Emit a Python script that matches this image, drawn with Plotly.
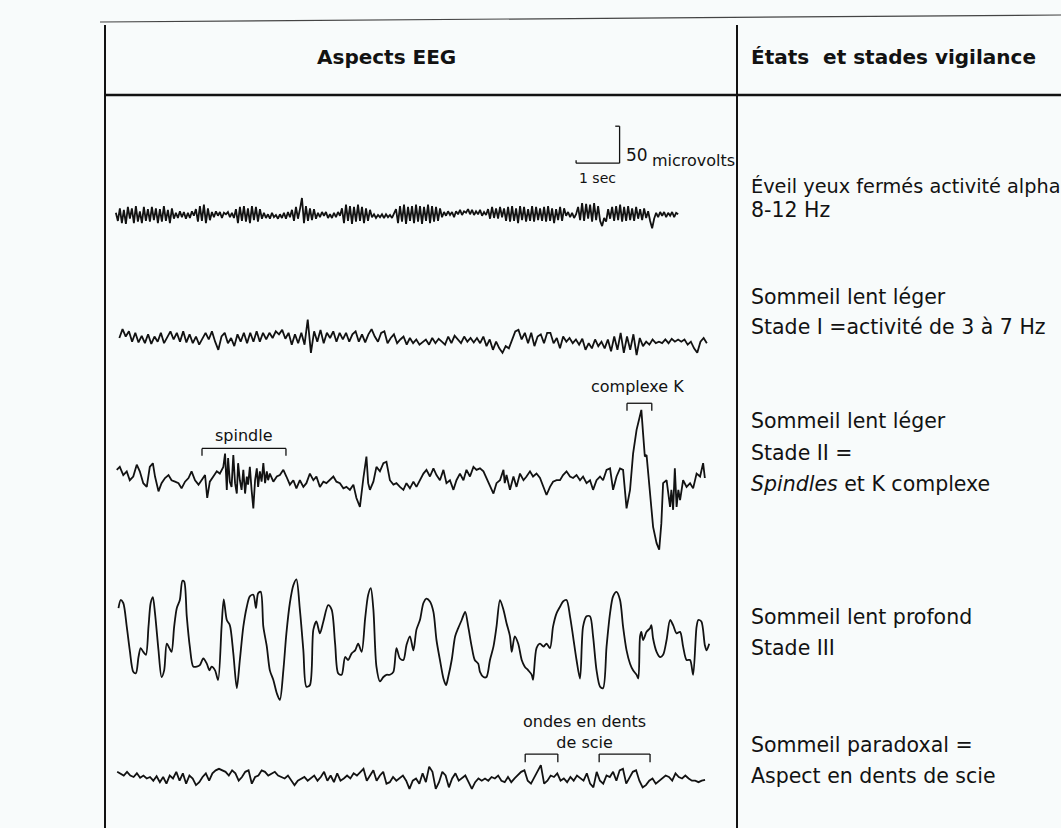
import plotly.graph_objects as go

W, H = 1061, 828
PX_PER_SEC = 43.5          # horizontal scale of the recording (1 s)
PX_PER_UV = 37 / 50        # vertical scale of the recording (50 microvolts)
TRACE_X0 = 115             # pixel where t = 0

# ---------------------------------------------------------------- data
# Eveil, yeux fermes (alpha) - uniform sampling
eveil_t0 = 0.02
eveil_dt = 0.046
eveil_uv = [3, -8, 9, -11, 7, -12, 11, -5, 9, -11, 12, -9, 5, -11, 11, -8, 8,
            -9, 11, -7, 9, -11, 8, -9, 12, -8, 7, -11, 9, -5,
            3, -4, 5, -3, 4, -5, 3, -4, 5, -1,
            8, -9, 12, -8, 14, -11, 9, -7,
            4, -3, 5, -1, 4, -4, 3, 1, 4, -3, 3, -4,
            8, -11, 11, -8, 12, -9, 9, -11, 12, -7, 11, -9, 8, -5,
            3, -4, 1, -5, 3, -3, 0, -5, 1, -4, 3, -5, 4, -3,
            7, -8, 11, -5, 8, 23, -11, 12, -8, 9, -7, 8, -5,
            3, -3, 4, -1, 4, -4, 1, -4, 3, -3, 4, -1,
            9, -11, 14, -8, 12, -12, 11, -9, 14, -8, 11, -11, 9, -8, 7,
            -3, 1, -4, 0, -3, 1, -4, 1, -3, 0, -4, 3,
            8, -11, 12, -9, 14, -12, 11, -8, 12, -11, 14, -9, 12, -12, 11, -8, 14, -11, 12, -9, 11, -8, 9,
            -3, 4, -1, 5, 0, 4, -3, 5, 1, 7, 0, 5, 3, 8, 1, 7, 0, 5, 1, 7, -1, 4, 0,
            8, -5, 11, -4, 9, -5, 11, -3, 9,
            -8, 11, -9, 12, -8, 9, -11, 12, -7, 11, -9, 8, -8, 12, -9, 11, -7, 9, -8, 11, -9, 12, -8, 9, -11, 8, -7, 11, -8, 9,
            -1, 4, -3, 3, -4, 1,
            11, -7, 16, -8, 15, -5, 14, -9, 16, -7, 12, -8,
            -15, -4, -9,
            8, -5, 11, -8, 12, -7, 14, -9, 11, -8, 12, -7, 9, -8, 11, -5, 8, -7, 9, -4, 5,
            -8, -18, -5,
            3, -3, 4, -1, 4, -3, 3, -1, 4, -3, 3, 1]

# Stade I - uniform sampling
stade1_t0 = 0.10
stade1_dt = 0.0734
stade1_uv = [0, 12, 2, 9, -5, 7, -6, 3, -7, 5,
             -8, 2, -5, 7, -7, 2, 9, -2, 7, -5,
             9, -6, 5, -7, 2, -9, 0, 7, -2, 9,
             -5, -16, 2, 7, -7, 0, -11, 5, -5, 7,
             -7, 7, -5, 9, -5, 7, -2, 7, 0, 9,
             5, 11, -1, 7, -9, 5, -7, 7, -9, 25,
             -20, 9, -5, 11, -7, 7, 0, 9, -5, 7,
             -2, 7, -5, 5, 9, -5, 5, -6, 5, 12,
             2, -5, 7, 9, -7, 0, 5, -7, -2, 2,
             -9, 0, -7, -2, -9, -5,
             -2, -9, 0, -7, -1, -5, -9, 2, -7, 3,
             -2, -7, 2, -5, 0, -6, 0, -7, 2, -11,
             -2, -16, -5, -14, -20, -11, -14, -2, 9, 11,
             -2, 7, -7, 7, -11, 2, 5, -7, 7, 7,
             -7, 0, -14, 2, -5, 0, -7, -2, -9, -1,
             -16, -7, -14, -2, -11, -5, -14, -2, -18, 2,
             -16, 7, -20, 2, -16, 5, -23, 0, -11, -5,
             -9, -2, -7, -5, -7, -2, -7, -1, -5, -2,
             -5, -2, -9, -5, -14, -20, -5, 0, -7]

# Stade II (spindles + complexe K) - time (s), amplitude (uV)
stade2_t = [0.04, 0.11, 0.19, 0.27, 0.34, 0.42, 0.50, 0.57, 0.65, 0.73,
            0.80, 0.87, 0.92, 1.00, 1.07, 1.15, 1.23, 1.30, 1.38, 1.46,
            1.53, 1.61, 1.69, 1.76, 1.84, 1.92, 1.99, 2.07, 2.12, 2.18,
            2.26, 2.34, 2.41, 2.49, 2.53, 2.57, 2.60, 2.64, 2.68, 2.72,
            2.76, 2.80, 2.83, 2.87, 2.91, 2.95, 2.99, 3.03, 3.06, 3.10,
            3.14, 3.18, 3.22, 3.26, 3.29, 3.33, 3.37, 3.41, 3.45, 3.49,
            3.52, 3.56, 3.64, 3.72, 3.79, 3.87, 3.94, 4.02, 4.10, 4.17,
            4.25, 4.33, 4.40, 4.48, 4.56, 4.63, 4.71, 4.79, 4.86, 4.94,
            5.02, 5.09, 5.17, 5.25, 5.32, 5.40, 5.48, 5.55, 5.63, 5.71,
            5.78, 5.82, 5.86, 5.94, 6.01, 6.09, 6.17, 6.24, 6.32, 6.40,
            6.47, 6.55, 6.63, 6.70, 6.78, 6.86, 6.93,
            7.09, 7.16, 7.24, 7.32, 7.39, 7.47, 7.55, 7.62, 7.70, 7.78,
            7.85, 7.93, 8.01, 8.08, 8.16, 8.24, 8.31, 8.39, 8.47, 8.54,
            8.62, 8.70, 8.77, 8.85, 8.93, 8.96, 9.00, 9.08, 9.16, 9.23,
            9.31, 9.39, 9.46, 9.54, 9.61, 9.69, 9.77, 9.84, 9.92, 10.00,
            10.07, 10.15, 10.23, 10.30, 10.38, 10.46, 10.53, 10.61, 10.69, 10.76,
            10.84, 10.92, 10.99, 11.07, 11.15, 11.22, 11.30, 11.38, 11.45, 11.53,
            11.61, 11.68, 11.72, 11.76, 11.84, 11.91, 11.99, 12.07, 12.10, 12.14,
            12.18, 12.22, 12.26, 12.30, 12.37, 12.45, 12.51, 12.56, 12.60, 12.68,
            12.72, 12.76, 12.79, 12.83, 12.87, 12.91, 12.95, 12.99, 13.06, 13.14,
            13.22, 13.29, 13.37, 13.45, 13.52, 13.56]
stade2_uv = [11, 15, 4, 9, -3, 2, 18, 9, -7, -12,
             15, 20, 2, -18, -7, 0, 4, -3, -5, -7,
             -14, -5, 0, 9, -3, -9, -3, 4, -27, -5,
             2, 9, 6, 15, 33, -16, 27, -5, -12, 31,
             -7, -21, 20, -3, -16, 11, -21, 2, -9, 15,
             -16, -41, -3, 13, -12, 9, -5, 20, -7, 9,
             -3, 6, -5, 2, 4, 11, 2, -9, -3, -14,
             -3, -12, -7, 6, -3, 2, -12, -5, -7, -3,
             2, -5, -7, -14, -12, -16, -9, -27, -39, 0,
             29, -7, -16, -5, 15, 9, 20, 22, -3, -9,
             -7, -12, -16, -7, -14, -5, -12,
             6, 11, 2, 13, 4, -3, 11, -7, -3, -16,
             -3, 6, -3, 11, 2, 15, 11, 13, 9, 0,
             -12, -21, -7, -3, 11, -7, 4, -16, 2, -12,
             6, -3, 2, 9, 2, 6, 0, -12, -23, -12,
             -5, -3, -3, 4, 9, 2, 0, 4, -3, 2,
             -7, -3, -16, -3, 2, -3, 11, 13, -16, 2,
             13, 11, -16, -41, -16, 33, 65, 87, 92, 60,
             29, 31, 6, -25, -66, -88, -97, -61, -7, -3,
             -25, -39, -16, -43, 13, -39, -16, -30, -3, -12,
             -7, -14, 6, 2, 20, 0]

# Stade III (ondes lentes) - time (s), amplitude (uV)
stade3_t = [0.08, 0.13, 0.19, 0.27, 0.34, 0.42, 0.48, 0.54, 0.59, 0.65,
            0.71, 0.77, 0.82, 0.87, 0.92, 1.00, 1.07, 1.13, 1.19, 1.25,
            1.30, 1.36, 1.42, 1.49, 1.55, 1.59, 1.65, 1.72, 1.80, 1.88,
            1.95, 2.03, 2.11, 2.17, 2.22, 2.30, 2.37, 2.45, 2.50, 2.57,
            2.64, 2.72, 2.80, 2.87, 2.95, 3.03, 3.10, 3.18, 3.24, 3.29,
            3.35, 3.41, 3.49, 3.56, 3.64, 3.72, 3.79, 3.87, 3.94, 4.02,
            4.10, 4.17, 4.25, 4.33, 4.40, 4.48, 4.56, 4.63, 4.71, 4.79,
            4.90, 4.98, 5.06, 5.13, 5.21, 5.29, 5.36, 5.44, 5.52, 5.59,
            5.67, 5.75, 5.82, 5.88, 5.94, 6.01, 6.09, 6.17, 6.24, 6.32,
            6.40, 6.47, 6.55, 6.63, 6.70, 6.78, 6.86, 6.93, 7.01,
            7.09, 7.16, 7.24, 7.32, 7.39, 7.47, 7.55, 7.61, 7.66, 7.74,
            7.82, 7.89, 7.97, 8.05, 8.12, 8.20, 8.27, 8.35, 8.39, 8.47,
            8.54, 8.62, 8.70, 8.77, 8.85, 8.93, 9.00, 9.08, 9.12, 9.19,
            9.27, 9.35, 9.42, 9.50, 9.58, 9.61, 9.69, 9.77, 9.85, 9.92,
            10.00, 10.07, 10.15, 10.23, 10.30, 10.38, 10.46, 10.53, 10.61, 10.69,
            10.76, 10.84, 10.92, 10.99, 11.07, 11.15, 11.22, 11.30, 11.38, 11.45,
            11.53, 11.61, 11.68, 11.76, 11.84, 11.91, 11.99, 12.03, 12.07, 12.10,
            12.14, 12.22, 12.30, 12.33, 12.37, 12.45, 12.53, 12.60, 12.68, 12.76,
            12.83, 12.91, 12.99, 13.06, 13.14, 13.22, 13.29, 13.37, 13.41, 13.48,
            13.56, 13.60, 13.66]
stade3_uv = [43, 54, 50, 18, -14, -43, -45, -23, -11, -16,
             -20, 18, 50, 58, 36, -14, -50, -41, -5, -11,
             -16, 18, 43, 54, 80, 79, 32, -9, -36, -36,
             -34, -25, -32, -41, -36, -41, -54, 18, 55, 27,
             20, -18, -65, -27, 18, 45, 59, 61, 43, 63,
             65, 18, -9, -41, -54, -72, -81, -41, 9, 50,
             74, 82, 41, -14, -63, -61, 14, 25, 9, 25,
             47, 41, -5, -45, -47, -23, -27, -18, -14, -5,
             -16, 29, 61, 70, 41, -36, -56, -50, -47, -47,
             -43, -11, -25, -27, -7, 5, -14, 14, 27,
             50, 56, 52, 38, 0, -27, -52, -61, -50, -27,
             5, 16, 27, 38, 18, -9, -27, -32, -43, -50,
             -50, -27, -9, 18, 54, 41, 23, 5, -16, 5,
             -5, -27, -36, -41, -47, -54, -11, -5, -9, -5,
             -11, 18, 36, 45, 52, 54, 32, 5, -27, -52,
             18, 32, 32, 5, -41, -63, -65, -9, 36, 59,
             65, 54, 18, -14, -32, -41, -47, -52, 5, 11,
             0, 11, 16, 20, 2, -16, -23, -20, 0, 27,
             20, 9, 11, -9, -27, -27, -47, 18, 27, 25,
             -7, -14, -5]

# Sommeil paradoxal - uniform sampling
paradoxal_t0 = 0.05
paradoxal_dt = 0.0755
paradoxal_uv = [7, 5, 2, 7, 2, 0, 5, -1, 2, -2,
                0, -5, 1, -7, 0, -9, 2, -2, 7, -5,
                5, -9, 2, -2, -11, -7, 0, 5, -5, 5,
                9, 11, 9, 7, 2, 9, 5, -5, 0, 7,
                9, -9, 0, 2, 9, 7, 2, 5, 7, 2,
                0, -2, 2, -5, -11, -5, -2, 0, -5, -2,
                2, -5, 0, 7, -5, 2, -7, 5, -5, -2,
                2, -2, 5, 2, 7, 11, -5, 2, 9, -5,
                2, 7, -9, -7, 0, -5, -2, 2, -5, -16,
                -5,
                -2, -9, 5, -7, 14, 7, -16, -7, 7, 2,
                -14, -2, 5, -5, -2, 2, -7, -16, -7, -2,
                -5, -2, -5, 0, -2, 2, -5, -7, 0, -7,
                -2, 2, 7, 9, -5, -9, 0, 9, 16, -9,
                -5, 2, 0, 5, -5, -2, -7, 0, -5, 2,
                -2, -5, 5, -9, -14, 7, -5, -9, 2, 0,
                7, -5, 9, 11, -9, 0, 7, 9, -5, -14,
                -11, -5, -2, -9, -5, -2, 2, 0, -5, 5,
                0, -2, 2, -2, -5, -5, -7, -5, -4]

# Event markers (time spans in s)
spindle_span = (2.0, 3.93)
complexe_k_span = (11.77, 12.34)
dents_de_scie_spans = [(9.43, 10.18), (11.13, 12.30)]

# Calibration
scale_sec = 1
scale_uv = 50

# Labels
header_left = "Aspects EEG"
header_right = "États\u00a0 et stades vigilance"
etats = [
    ("Éveil yeux fermés activité alpha", 186, 19.3),
    ("8-12 Hz", 210, 20.5),
    ("Sommeil lent léger", 297, 20.5),
    ("Stade I =activité de 3 à 7 Hz", 327, 20.5),
    ("Sommeil lent léger", 421, 20.5),
    ("Stade II =", 453, 20.5),
    ("<i>Spindles</i> et K complexe", 484, 20.5),
    ("Sommeil lent profond", 617, 20.5),
    ("Stade III", 648, 20.5),
    ("Sommeil paradoxal =", 745, 20.5),
    ("Aspect en dents de scie", 776, 20.5),
]

# ---------------------------------------------------------------- layout helpers
INK = "#121212"
FONT = "DejaVu Sans"

# (baseline px, top px, bottom px) for each trace band
bands = {
    "y":  (215, 120, 258),
    "y2": (338, 298, 372),
    "y3": (478, 375, 566),
    "y4": (640, 572, 712),
    "y5": (777, 713, 822),
}
line_shapes = {"y": "linear", "y2": "linear", "y3": "linear", "y4": "spline", "y5": "linear"}


def band_axis(base, top, bottom):
    return dict(domain=[1 - bottom / H, 1 - top / H],
                range=[-(bottom - base) / PX_PER_UV, (base - top) / PX_PER_UV],
                visible=False, fixedrange=True)


def uniform_times(t0, dt, n):
    return [t0 + i * dt for i in range(n)]


fig = go.Figure()
series = [
    ("y", uniform_times(eveil_t0, eveil_dt, len(eveil_uv)), eveil_uv),
    ("y2", uniform_times(stade1_t0, stade1_dt, len(stade1_uv)), stade1_uv),
    ("y3", stade2_t, stade2_uv),
    ("y4", stade3_t, stade3_uv),
    ("y5", uniform_times(paradoxal_t0, paradoxal_dt, len(paradoxal_uv)), paradoxal_uv),
]
for yax, t, v in series:
    ls = line_shapes[yax]
    line = dict(color=INK, width=1.8, shape=ls)
    if ls == "spline":
        line["smoothing"] = 0.8
    fig.add_trace(go.Scatter(x=t, y=v, mode="lines", xaxis="x", yaxis=yax,
                             line=line, hoverinfo="skip", showlegend=False))

layout_axes = {}
for k, (b, tp, bt) in bands.items():
    name = "yaxis" if k == "y" else "yaxis" + k[1:]
    layout_axes[name] = band_axis(b, tp, bt)

shapes = []


def pline(x0, y0, x1, y1, w=2, color=INK):
    shapes.append(dict(type="line", xref="paper", yref="paper",
                       x0=x0 / W, y0=1 - y0 / H, x1=x1 / W, y1=1 - y1 / H,
                       line=dict(color=color, width=w)))


def dline(yref, x0, y0, x1, y1, w=1.3):
    shapes.append(dict(type="line", xref="x", yref=yref,
                       x0=x0, y0=y0, x1=x1, y1=y1,
                       line=dict(color=INK, width=w)))


def bracket(yref, span, y_top, drop):
    a, b = span
    dline(yref, a, y_top, b, y_top)
    dline(yref, a, y_top, a, y_top - drop)
    dline(yref, b, y_top, b, y_top - drop)


# table lines
pline(100, 22, 1061, 15, w=1.2, color="#444")
pline(105, 25, 105, 830, w=2)
pline(737, 25, 737, 830, w=2)
pline(105, 95, 1061, 95, w=2.5)

# markers
bracket("y3", spindle_span, 40, 10)
bracket("y3", complexe_k_span, 101, 10)
for sp in dents_de_scie_spans:
    bracket("y5", sp, 31, 11)

# calibration bar on the first trace
cal_t = 11.6
cal_v = 70
dline("y", cal_t - scale_sec, cal_v, cal_t, cal_v, w=1.3)
dline("y", cal_t, cal_v, cal_t, cal_v + scale_uv, w=1.3)
dline("y", cal_t - scale_sec, cal_v, cal_t - scale_sec, cal_v + 4, w=1.3)
dline("y", cal_t - 0.1, cal_v + scale_uv, cal_t, cal_v + scale_uv, w=1.3)

annotations = []


def ptext(text, x, y, size, anchor="left", bold=False):
    annotations.append(dict(text=("<b>%s</b>" % text) if bold else text,
                            xref="paper", yref="paper", x=x / W, y=1 - y / H,
                            xanchor=anchor, yanchor="middle", showarrow=False,
                            font=dict(family=FONT, size=size, color=INK)))


def dtext(text, yref, x, y, size, anchor="center"):
    annotations.append(dict(text=text, xref="x", yref=yref, x=x, y=y,
                            xanchor=anchor, yanchor="middle", showarrow=False,
                            font=dict(family=FONT, size=size, color=INK)))


ptext(header_left, 386, 57, 20, anchor="center", bold=True)
ptext(header_right, 749, 57, 20, bold=True)
for txt, yy, sz in etats:
    ptext(txt, 749, yy, sz)

dtext("spindle", "y3", sum(spindle_span) / 2, 57, 16)
dtext("complexe K", "y3", sum(complexe_k_span) / 2 - 0.05, 123, 16)
dtext("ondes en dents<br>de scie", "y5", 10.8, 61, 16)
dtext("50", "y", cal_t + 0.1, 81, 17, anchor="left")
dtext("microvolts", "y", cal_t + 0.7, 73, 16, anchor="left")
dtext("1 sec", "y", cal_t - scale_sec / 2, 50, 14)

fig.update_layout(
    width=W, height=H,
    margin=dict(l=0, r=0, t=0, b=0),
    paper_bgcolor="#f8fbfb", plot_bgcolor="rgba(0,0,0,0)",
    xaxis=dict(domain=[0, 1],
               range=[-TRACE_X0 / PX_PER_SEC, (W - TRACE_X0) / PX_PER_SEC],
               visible=False, fixedrange=True),
    shapes=shapes, annotations=annotations,
    showlegend=False,
    **layout_axes,
)

fig.write_html("out.html", config={"displayModeBar": False},
               post_script="document.body.style.margin='0';document.body.style.background='#f8fbfb';")
